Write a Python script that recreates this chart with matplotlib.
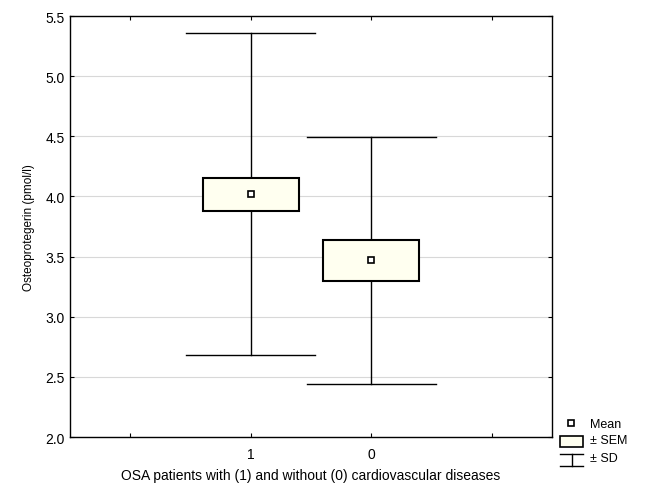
import matplotlib
matplotlib.use('Agg')
from matplotlib import pyplot as plt
from matplotlib.patches import Rectangle
from matplotlib.lines import Line2D

groups = ['1', '0']
means = [4.02, 3.47]
sem_lo = [3.88, 3.30]
sem_hi = [4.155, 3.635]
sd_lo = [2.68, 2.44]
sd_hi = [5.355, 4.49]
yticks = [2.0, 2.5, 3.0, 3.5, 4.0, 4.5, 5.0, 5.5]

plt.rcParams['font.family'] = ['Liberation Sans', 'DejaVu Sans']
plt.rcParams['font.size'] = 10

fig = plt.figure(figsize=(6.45, 4.85), dpi=100)
ax = fig.add_axes([70/645, 1-438/485, 482/645, 421/485])

box_w = 0.8
cap_w = 1.07
for k in range(len(groups)):
    x = k + 1
    ax.add_line(Line2D([x, x], [sd_lo[k], sd_hi[k]], color='black', linewidth=1, zorder=2))
    ax.add_line(Line2D([x-cap_w/2, x+cap_w/2], [sd_hi[k], sd_hi[k]], color='black', linewidth=1, zorder=2))
    ax.add_line(Line2D([x-cap_w/2, x+cap_w/2], [sd_lo[k], sd_lo[k]], color='black', linewidth=1, zorder=2))
    ax.add_patch(Rectangle((x-box_w/2, sem_lo[k]), box_w, sem_hi[k]-sem_lo[k],
                           facecolor='#fffff0', edgecolor='black', linewidth=1.5, zorder=3))
    ax.plot(x, means[k], marker='s', markersize=4, markerfacecolor='white',
            markeredgecolor='black', markeredgewidth=1.2, zorder=4)

ax.set_xlim(-0.5, 3.5)
ax.set_ylim(2.0, 5.5)
ax.set_xticks([0, 1, 2, 3])
ax.set_xticklabels([''] + groups + [''])
ax.set_yticks(yticks)
ax.set_yticklabels(['%.1f' % t for t in yticks])
ax.tick_params(direction='in', length=3, width=0.8, top=True, right=True, labelsize=10)
ax.tick_params(axis='y', pad=4)
ax.tick_params(axis='x', pad=7)
ax.grid(True, axis='y', color='#d8d8d8', linewidth=0.8)
ax.set_axisbelow(True)
for s in ax.spines.values():
    s.set_linewidth(1.0)
ax.set_ylabel('Osteoprotegerin (pmol/l)', fontsize=8.5, labelpad=7)
ax.set_xlabel('OSA patients with (1) and without (0) cardiovascular diseases', fontsize=10, labelpad=5)

# legend drawn by hand, figure pixel coords
def px(x, y):
    return x/645, 1-y/485
tx = 590
fig.add_artist(Line2D([px(571, 0)[0]], [px(0, 424)[1]], marker='s', markersize=4,
                      markerfacecolor='white', markeredgecolor='black', markeredgewidth=1.2,
                      transform=fig.transFigure))
fig.text(*px(tx, 425), 'Mean', va='center', ha='left', fontsize=9)
x0, y0 = px(560, 448)
x1, y1 = px(583, 437)
fig.add_artist(Rectangle((x0, y0), x1-x0, y1-y0, facecolor='#fffff0', edgecolor='black',
                         linewidth=1.2, transform=fig.transFigure))
fig.text(*px(tx, 441), '± SEM', va='center', ha='left', fontsize=9)
fig.add_artist(Line2D([px(560, 0)[0], px(583, 0)[0]], [px(0, 455)[1]]*2, color='black',
                      linewidth=1, transform=fig.transFigure))
fig.add_artist(Line2D([px(571.5, 0)[0]]*2, [px(0, 455)[1], px(0, 467)[1]], color='black',
                      linewidth=1, transform=fig.transFigure))
fig.add_artist(Line2D([px(560, 0)[0], px(583, 0)[0]], [px(0, 467)[1]]*2, color='black',
                      linewidth=1, transform=fig.transFigure))
fig.text(*px(tx, 459), '± SD', va='center', ha='left', fontsize=9)

fig.savefig('out.png', dpi=100)
